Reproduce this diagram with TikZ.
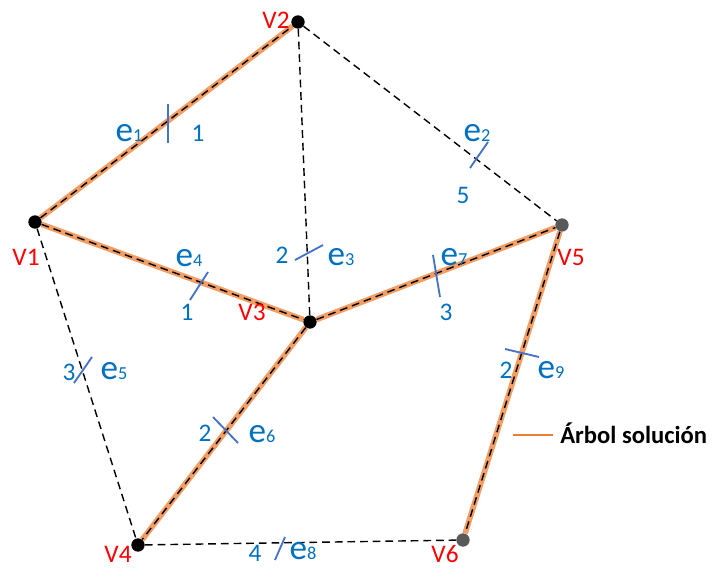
\documentclass[tikz,border=0pt]{standalone}
\usepackage{fontspec}
\setmainfont{Carlito}
\usepackage{xcolor}
\usepackage{tikz}
\usetikzlibrary{positioning}
\definecolor{treeorange}{HTML}{ED7D31}
\definecolor{labblue}{HTML}{0070C0}
\definecolor{tickblue}{HTML}{4472C4}
\definecolor{vred}{HTML}{FF0000}
\definecolor{dotgray}{HTML}{595959}
\newcommand{\elab}[1]{{\fontsize{25}{25}\selectfont e}{\fontsize{13}{13}\selectfont #1}}

\tikzset{
  vertex/.style={circle, fill=black, inner sep=0pt, minimum size=9.5pt},
  vertexgray/.style={vertex, fill=dotgray},
  vname/.style={font=\fontsize{18}{18}\selectfont, text=vred, inner sep=0pt},
  elabel/.style={text=labblue, inner sep=0pt},
  wlabel/.style={font=\fontsize{18}{18}\selectfont, text=labblue, inner sep=0pt},
  edge/.style={black, dash pattern=on 5.5pt off 3.5pt, line width=1pt},
  tree/.style={treeorange, opacity=0.75, line width=4pt},
  tick/.style={tickblue, line width=1.3pt},
}

\begin{document}
\begin{tikzpicture}[x=0.025cm, y=-0.025cm]
\useasboundingbox (0,0) rectangle (714,567);

% Vertices
\node[vertex] (v1) at (35,222) {};
\node[vertex] (v2) at (298,22) {};
\node[vertex] (v3) at (310,322) {};
\node[vertex] (v4) at (138,545) {};
\node[vertexgray] (v5) at (562,225) {};
\node[vertexgray] (v6) at (463,540) {};

% Solution tree
\draw[tree] (v1) -- (v2);
\draw[tree] (v1) -- (v3);
\draw[tree] (v3) -- (v5);
\draw[tree] (v3) -- (v4);
\draw[tree] (v5) -- (v6);

% Graph edges
\draw[edge] (v1) -- (v2);
\draw[edge] (v2) -- (v5);
\draw[edge] (v2) -- (v3);
\draw[edge] (v1) -- (v3);
\draw[edge] (v1) -- (v4);
\draw[edge] (v3) -- (v4);
\draw[edge] (v3) -- (v5);
\draw[edge] (v4) -- (v6);
\draw[edge] (v5) -- (v6);

% Vertex names
\node[vname] (n1) at (26,257) {V1};
\node[vname] (n2) at (276,20) {V2};
\node[vname] (n3) at (252,312) {V3};
\node[vname] (n4) at (118,554) {V4};
\node[vname] (n5) at (571,257) {V5};
\node[vname] (n6) at (445,554) {V6};

% e1
\draw[tick] (168,104) -- (168,143);
\node[elabel] (e1) at (129,133) {\elab{1}};
\node[wlabel] (w1) at (198,133) {1};

% e2
\draw[tick] (470,168) -- (488,142);
\node[elabel] (e2) at (477,133) {\elab{2}};
\node[wlabel] (w2) at (463,195) {5};

% e3
\draw[tick] (295,260) -- (323,245);
\node[elabel] (e3) at (341,257) {\elab{3}};
\node[wlabel] (w3) at (282,255) {2};

% e4
\draw[tick] (190,300) -- (208,272);
\node[elabel] (e4) at (189,258) {\elab{4}};
\node[wlabel] (w4) at (187,312) {1};

% e5
\draw[tick] (74,383) -- (92,357);
\node[elabel] (e5) at (114,371) {\elab{5}};
\node[wlabel] (w5) at (69,372) {3};

% e6
\draw[tick] (213,417) -- (238,443);
\node[elabel] (e6) at (262,434) {\elab{6}};
\node[wlabel] (w6) at (205,433) {2};

% e7
\draw[tick] (433,255) -- (440,297);
\node[elabel] (e7) at (454,257) {\elab{7}};
\node[wlabel] (w7) at (446,312) {3};

% e8
\draw[tick] (275,560) -- (285,537);
\node[elabel] (e8) at (303,551) {\elab{8}};
\node[wlabel] (w8) at (255,553) {4};

% e9
\draw[tick] (505,349) -- (539,357);
\node[elabel] (e9) at (551,370) {\elab{9}};
\node[wlabel] (w9) at (506,370) {2};

% Legend
\node[anchor=west, inner sep=0pt, font=\fontsize{17.5}{19}\selectfont\bfseries] (legend) at (560,433) {Árbol solución};
\coordinate (legstart) at (513,435);
\draw[treeorange, line width=2pt] (legstart) -- ++(40,0);

\end{tikzpicture}
\end{document}
